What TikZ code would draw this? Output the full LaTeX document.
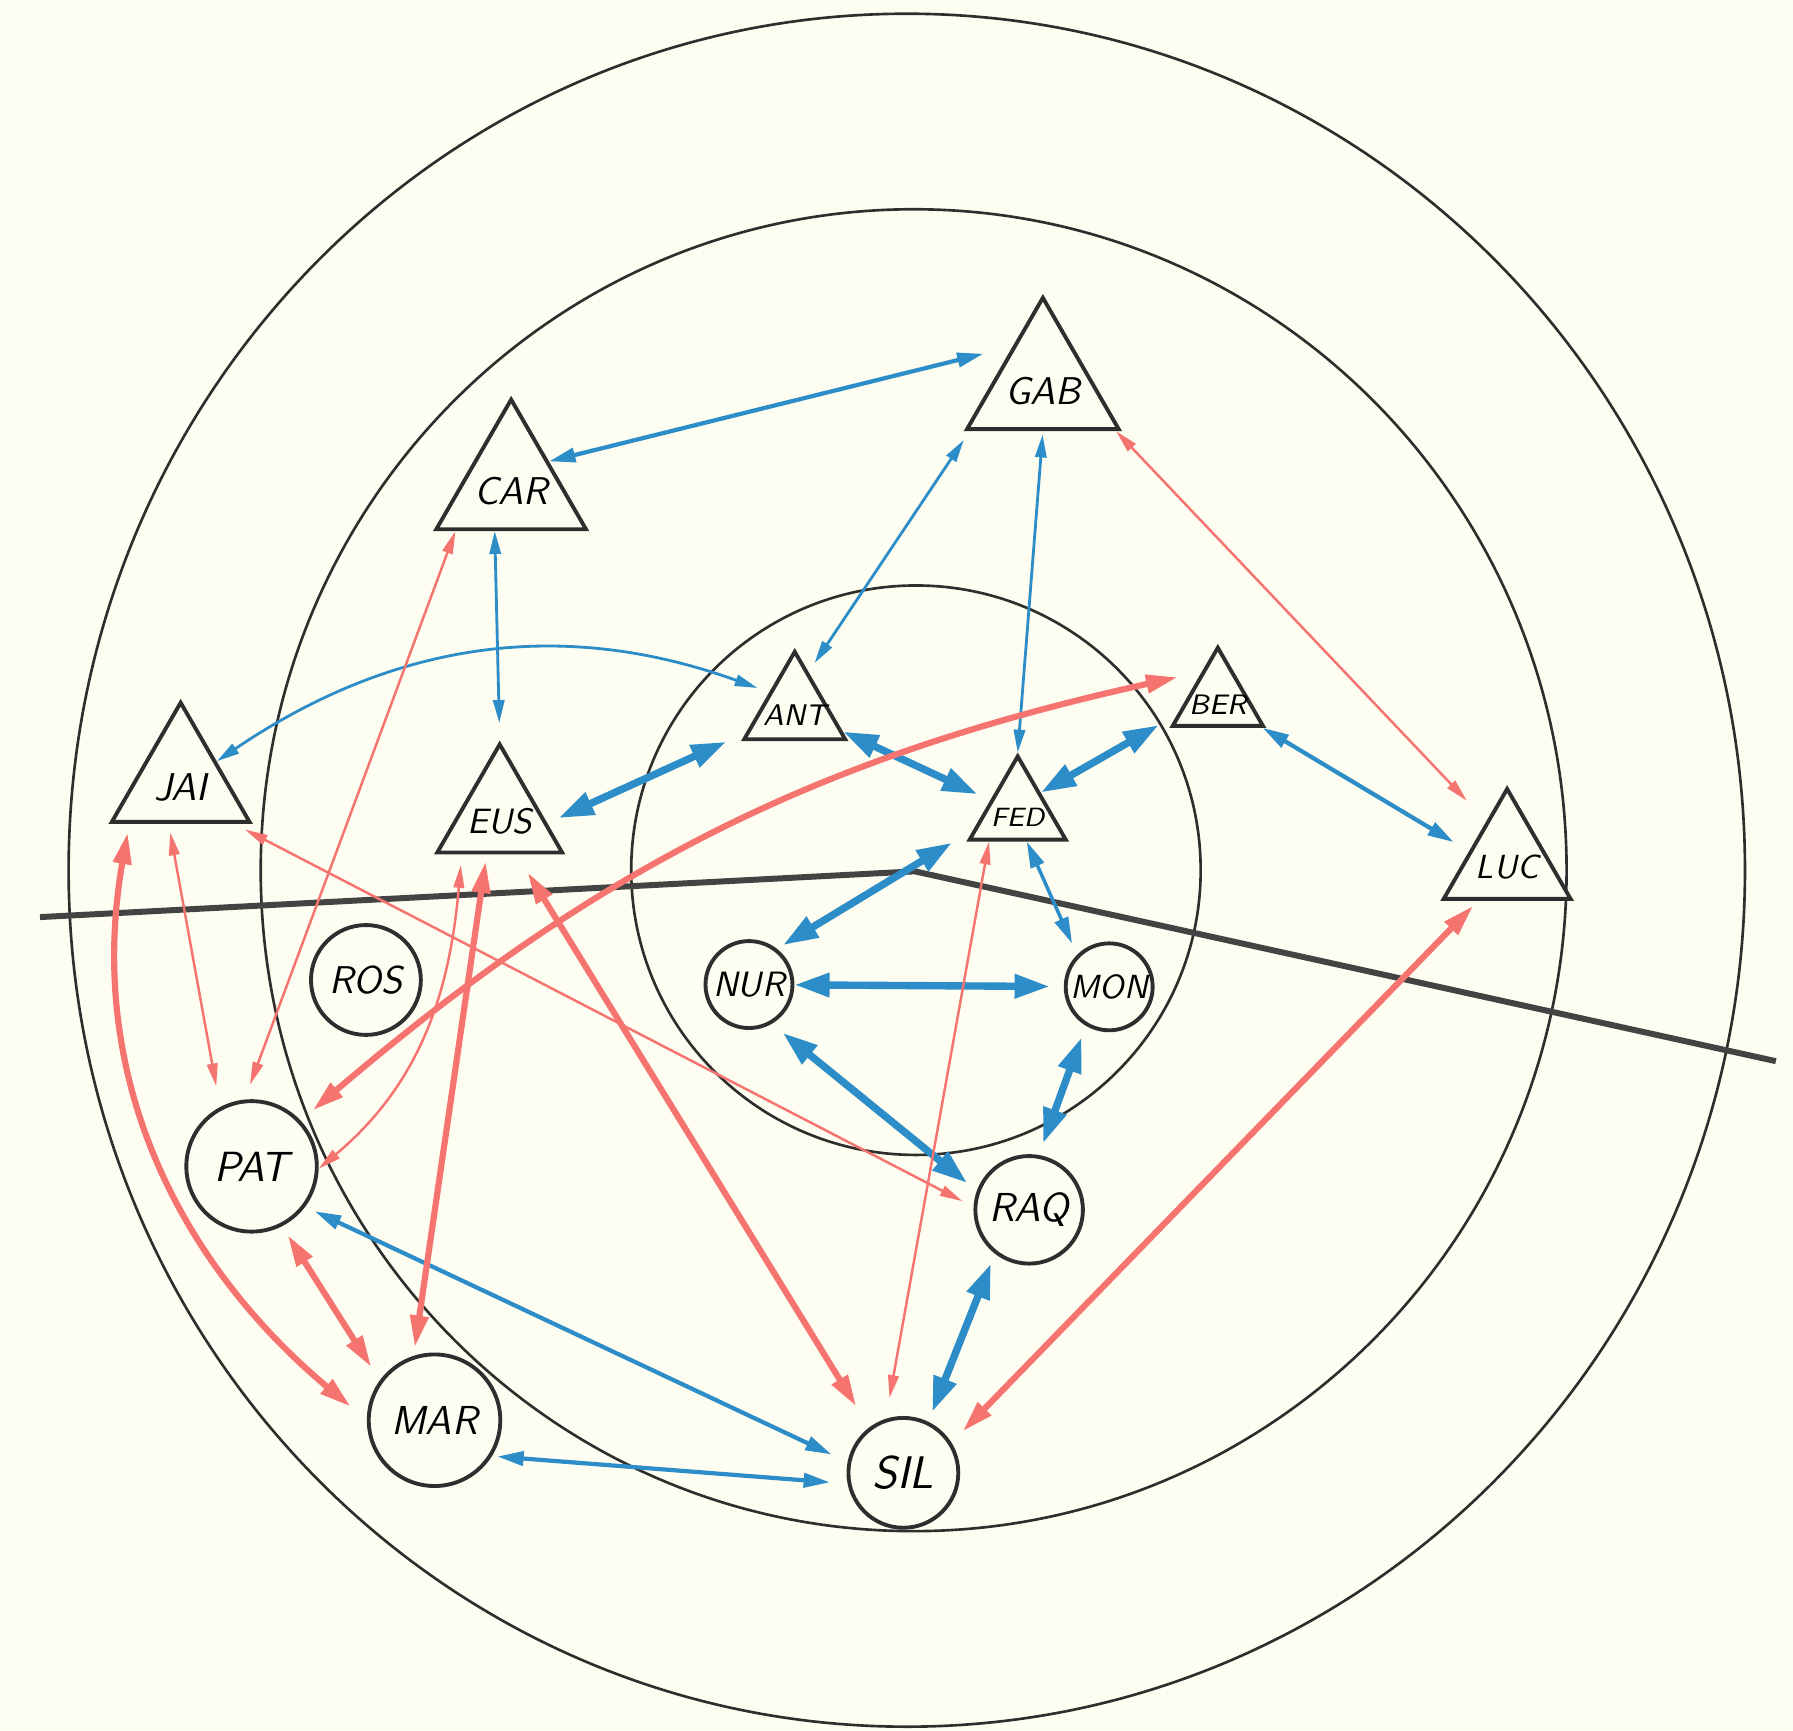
\documentclass[tikz,border=0pt]{standalone}
\usepackage{tikz}
\usetikzlibrary{arrows.meta, shapes.geometric}
\definecolor{lnBlue}{HTML}{2C8DC8}
\definecolor{lnRed}{HTML}{F6746F}
\definecolor{paper}{HTML}{FEFDF1}
\definecolor{ink}{HTML}{2E2E2E}
\newcommand{\lsz}[1]{\fontsize{#1}{#1}\selectfont\sffamily\itshape}
\tikzset{
  every node/.style={font=\sffamily\itshape},
  tri/.style={regular polygon, regular polygon sides=3, draw=ink, line width=1.1pt,
              fill=paper, inner sep=0pt, minimum size=#1},
  rnd/.style={circle, draw=ink, line width=1.1pt, fill=paper, inner sep=0pt, minimum size=#1},
  name in/.style 2 args={label={[anchor=center, yshift=-1.5pt, font=\lsz{#1}]center:#2}},
  ring/.style={draw=ink, line width=0.75pt},
  divider/.style={draw=ink!90, line width=1.7pt, line join=round},
  bThick/.style={draw=lnBlue, line width=2.1pt, >={Triangle[length=10pt,width=6.5pt]}, <->},
  bMid/.style={draw=lnBlue, line width=1.2pt, >={Triangle[length=7.5pt,width=4pt]}, <->},
  bThin/.style={draw=lnBlue, line width=0.8pt, >={Triangle[length=6.5pt,width=3.2pt]}, <->},
  rThick/.style={draw=lnRed, line width=1.75pt, >={Triangle[length=9pt,width=5pt]}, <->},
  rThin/.style={draw=lnRed, line width=0.7pt, >={Triangle[length=6.5pt,width=3pt]}, <->},
}

\begin{document}
\begin{tikzpicture}[x=0.011435cm, y=-0.011435cm]
  \fill[paper] (0,0) rectangle (1568,1513);
  \useasboundingbox (0,0) rectangle (1568,1513);
  % rings
  \draw[ring] (793,761) ellipse [x radius=733, y radius=749];
  \draw[ring] (799,761) ellipse [x radius=571, y radius=578];
  \draw[ring] (801,761) circle [radius=249];
  \draw[divider] (35,802) -- (800,762) -- (1553,928);
  % triangles
  \node[tri=1.75cm, name in={11}{GAB}] (gab) at (912,337) {};
  \node[tri=1.727cm, name in={11}{CAR}] (car) at (447,425) {};
  \node[tri=1.589cm, name in={11}{JAI}] (jai) at (158,684) {};
  \node[tri=1.441cm, name in={10}{EUS}] (eus) at (437,714) {};
  \node[tri=1.166cm, name in={8.5}{ANT}] (ant) at (695,621) {};
  \node[tri=1.041cm, name in={8}{BER}] (ber) at (1065,612) {};
  \node[tri=1.109cm, name in={7.5}{FED}] (fed) at (890,710) {};
  \node[tri=1.464cm, name in={9.5}{LUC}] (luc) at (1318,754) {};
  % circles
  \node[rnd=1.098cm, font=\lsz{11}] (ros) at (320,857) {ROS};
  \node[rnd=1.304cm, font=\lsz{12}] (pat) at (220,1020) {PAT};
  \node[rnd=1.315cm, font=\lsz{11.5}] (mar) at (380,1242) {MAR};
  \node[rnd=1.098cm, font=\lsz{13}] (sil) at (790,1288) {SIL};
  \node[rnd=1.075cm, font=\lsz{11.5}] (raq) at (900,1058) {RAQ};
  \node[rnd=0.869cm, font=\lsz{10}] (nur) at (655,861) {NUR};
  \node[rnd=0.869cm, font=\lsz{9.5}] (mon) at (970,863) {MON};
  % blue ties
  \draw[bMid, shorten >=8.5pt] (car.33) -- (gab.128);
  \draw[bThin, shorten <=3pt, shorten >=3pt] (gab.212) -- (ant.70);
  \draw[bThin, shorten <=1pt] (gab.south) -- (fed.north);
  \draw[bThin, shorten >=5pt] (car.250) -- (eus.north);
  \draw[bThin, shorten >=3.5pt] (jai.30) to[bend left=27] (ant.145);
  \draw[bThick, shorten <=6pt, shorten >=3.5pt] (ant.205) -- (eus.352);
  \draw[bThick, shorten >=4pt] (ant.336) -- (fed.157);
  \draw[bThick, shorten <=6pt] (ber.200) -- (fed.40);
  \draw[bMid, shorten >=5pt] (ber.328) -- (luc.164);
  \draw[bThick, shorten <=7pt, shorten >=2pt] (fed.202) -- (nur.52);
  \draw[bMid, line width=1pt, shorten >=3.5pt] (fed.287) -- (mon.135);
  \draw[bThick, shorten >=4pt] (nur) -- (mon);
  \draw[bThick, shorten <=4pt, shorten >=3.5pt] (nur.300) -- (raq.160);
  \draw[bThick, shorten <=3.5pt, shorten >=3.5pt] (mon.239) -- (raq.80);
  \draw[bThick, shorten <=3pt, shorten >=3pt] (raq.232) -- (sil.64);
  \draw[bMid, shorten <=3pt, shorten >=5pt] (pat.323) -- (sil.169);
  \draw[bMid, shorten <=1.5pt, shorten >=5pt] (mar.328) -- (sil.191);
  % red ties
  \draw[rThin, shorten >=8pt] (gab.328) -- (luc.117);
  \draw[rThin, shorten >=4.5pt] (car.219) -- (pat.96);
  \draw[rThin, shorten <=2.5pt, shorten >=6pt] (jai.254) -- (pat.118);
  \draw[rThick, shorten <=4.5pt, shorten >=7pt] (pat.43) to[bend left=14] (ber.120);
  \draw[rThin, shorten <=3pt] (eus.225) to[out=265, in=40] (pat.358);
  \draw[rThick, shorten <=2pt, shorten >=2.5pt] (eus.251) -- (mar.108);
  \draw[rThick, shorten <=6pt, shorten >=7pt] (eus.294) -- (sil.127);
  \draw[rThick, shorten <=2.5pt, shorten >=6pt] (jai.219) to[out=260, in=140] (mar.180);
  \draw[rThick, shorten <=3pt, shorten >=4.5pt] (pat.297) -- (mar.144);
  \draw[rThin, shorten <=3.5pt, shorten >=3.5pt] (jai.322) -- (raq.177);
  \draw[rThin, shorten >=6pt] (fed.226) -- (sil.108);
  \draw[rThick, shorten <=2pt, shorten >=4.5pt] (luc.233) -- (sil.32);
\end{tikzpicture}
\end{document}
